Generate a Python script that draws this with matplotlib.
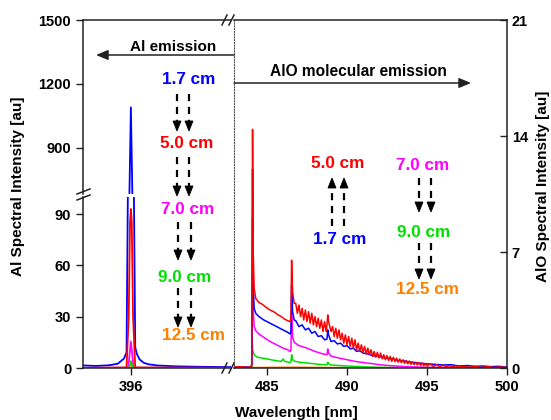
import numpy as np
import matplotlib
matplotlib.use("Agg")
from matplotlib import pyplot as plt
from matplotlib.lines import Line2D
from matplotlib.patches import FancyArrowPatch, Polygon

plt.rcParams['font.family'] = ['Liberation Sans', 'DejaVu Sans']
plt.rcParams['font.weight'] = 'bold'
plt.rcParams['axes.labelweight'] = 'bold'

# colours of the five distances
c_17 = '#0000FF'
c_50 = '#FF0000'
c_70 = '#FF00FF'
c_90 = '#00E000'
c_125 = '#FF8000'

# ---- Al line (left part, nm / au) ----
al_wl_17 = [395.45, 395.6, 395.75, 395.85, 395.92, 395.95, 395.965, 395.983, 396.0,
            396.017, 396.035, 396.05, 396.07, 396.1, 396.15, 396.2, 396.3, 396.5, 396.8, 397.15]
al_17 = [1.5, 1.2, 1.6, 2.5, 5.5, 9, 100, 680, 1090, 680, 100, 12, 8, 5, 3, 2.2, 1.5, 1.0, 0.7, 0.5]

al_wl_50 = [395.45, 395.95, 395.975, 395.99, 396.0, 396.01, 396.025, 396.05, 397.15]
al_50 = [0.1, 0.3, 30, 85, 93, 85, 30, 0.3, 0.1]

al_wl_70 = [395.45, 395.97, 395.985, 396.0, 396.015, 396.03, 397.15]
al_70 = [0.05, 0.2, 8, 15.5, 8, 0.2, 0.05]

al_wl_90 = [395.45, 395.98, 395.99, 396.0, 396.01, 396.02, 397.15]
al_90 = [0.02, 0.1, 2, 4, 2, 0.1, 0.02]

al_wl_125 = [395.45, 395.98, 396.0, 396.02, 397.15]
al_125 = [0.02, 0.05, 0.6, 0.05, 0.02]

# ---- AlO band (right part, nm / au) ----
alo_wl_50 = [482.94, 483.3, 483.7, 484.0, 484.05, 484.08, 484.1, 484.14, 484.2, 484.3,
             484.5, 484.7, 484.9, 485.1, 485.3, 485.5, 485.7, 485.9, 486.1, 486.3, 486.45,
             486.5, 486.54, 486.6, 486.7,
             486.8, 486.9, 487.0, 487.1, 487.2, 487.3, 487.4, 487.5, 487.6, 487.7, 487.8, 487.9,
             488.0, 488.1, 488.2, 488.3, 488.4, 488.5, 488.6, 488.7, 488.75, 488.8, 488.85,
             489.0, 489.1, 489.2, 489.3, 489.4, 489.5, 489.6, 489.7, 489.8, 489.9,
             490.0, 490.1, 490.2, 490.3, 490.4, 490.5, 490.6, 490.7, 490.8, 490.9,
             491.0, 491.1, 491.2, 491.3, 491.4, 491.5, 491.6, 491.7, 491.8, 491.9,
             492.0, 492.1, 492.2, 492.3, 492.4, 492.5, 492.6, 492.7, 492.8, 492.9,
             493.0, 493.1, 493.2, 493.3, 493.4, 493.5, 493.6, 493.7, 493.8, 493.9,
             494.0, 494.1, 494.2, 494.3, 494.4, 494.5, 494.6, 494.7, 494.8, 494.9,
             495.0, 495.2, 495.4, 495.6, 495.8, 496.0, 496.2, 496.4, 496.6, 496.8,
             497.0, 497.3, 497.6, 498.0, 498.4, 498.8, 499.2, 499.6, 500.0]
alo_50 = [0.05, 0.08, 0.04, 0.06, 0.2, 7, 14.4, 7, 4.8, 4.2,
          3.95, 3.85, 3.7, 3.55, 3.45, 3.35, 3.2, 3.1, 2.95, 2.85, 2.8,
          3.0, 6.5, 4.6, 3.9,
          3.9, 3.3, 3.8, 3.1, 3.6, 2.9, 3.5, 2.8, 3.4, 2.7, 3.3, 2.6,
          3.1, 2.5, 3.0, 2.4, 2.9, 2.2, 2.8, 2.2, 2.6, 3.2, 2.8,
          2.2, 2.5, 1.9, 2.4, 1.8, 2.3, 1.7, 2.1, 1.5, 2.0,
          1.4, 1.9, 1.3, 1.8, 1.2, 1.7, 1.1, 1.5, 1.0, 1.4,
          0.95, 1.3, 0.85, 1.2, 0.8, 1.1, 0.7, 1.0, 0.65, 0.95,
          0.6, 0.9, 0.55, 0.8, 0.5, 0.75, 0.45, 0.7, 0.4, 0.65,
          0.38, 0.6, 0.35, 0.55, 0.32, 0.5, 0.28, 0.45, 0.25, 0.42,
          0.22, 0.38, 0.2, 0.35, 0.18, 0.32, 0.16, 0.3, 0.14, 0.27,
          0.12, 0.24, 0.1, 0.2, 0.08, 0.18, 0.07, 0.15, 0.06, 0.13,
          0.05, 0.11, 0.04, 0.1, 0.03, 0.08, 0.03, 0.06, 0.03]

alo_wl_17 = [482.94, 483.5, 484.0, 484.05, 484.08, 484.1, 484.14, 484.2, 484.3, 484.5,
             484.8, 485.1, 485.4, 485.7, 486.0, 486.3, 486.45, 486.5, 486.54, 486.6, 486.7,
             486.8, 487.0, 487.2, 487.4, 487.6, 487.8, 488.0, 488.2, 488.4, 488.6, 488.75,
             488.8, 488.85, 489.0, 489.2, 489.4, 489.6, 489.8, 490.0, 490.2, 490.4, 490.6,
             490.8, 491.0, 491.3, 491.6, 492.0, 492.4, 492.8, 493.2, 493.6, 494.0, 494.5,
             495.0, 495.5, 496.0, 496.5, 497.0, 497.5, 498.0, 498.5, 499.0, 499.5, 500.0]
alo_17 = [0.05, 0.06, 0.05, 0.2, 6, 12, 5, 3.6, 3.3, 3.1,
          2.9, 2.75, 2.6, 2.45, 2.3, 2.15, 2.05, 2.2, 5.0, 3.4, 2.9,
          2.85, 2.5, 2.6, 2.3, 2.4, 2.1, 2.2, 1.9, 1.95, 1.7, 1.75,
          2.3, 2.0, 1.6, 1.65, 1.45, 1.5, 1.3, 1.35, 1.15, 1.2, 1.0,
          1.05, 0.9, 0.85, 0.75, 0.7, 0.6, 0.55, 0.45, 0.42, 0.35, 0.3,
          0.25, 0.22, 0.18, 0.2, 0.12, 0.15, 0.1, 0.12, 0.08, 0.1, 0.05]

alo_wl_70 = [482.94, 484.0, 484.05, 484.08, 484.1, 484.14, 484.2, 484.3, 484.5, 484.8,
             485.1, 485.4, 485.7, 486.0, 486.3, 486.45, 486.5, 486.54, 486.6, 486.7,
             487.0, 487.5, 488.0, 488.5, 488.75, 488.8, 488.85, 489.0, 489.5, 490.0,
             490.5, 491.0, 491.5, 492.0, 493.0, 494.0, 495.0, 500.0]
alo_70 = [0.03, 0.03, 0.2, 5, 9, 3.5, 2.5, 2.25, 2.05, 1.85,
          1.65, 1.5, 1.35, 1.2, 1.1, 1.0, 1.1, 3.3, 1.9, 1.55,
          1.35, 1.2, 1.0, 0.85, 0.8, 1.15, 0.9, 0.72, 0.6, 0.5,
          0.4, 0.33, 0.27, 0.2, 0.12, 0.07, 0.04, 0.02]

alo_wl_90 = [482.94, 484.0, 484.04, 484.07, 484.1, 484.2, 484.4, 485.0, 485.5, 485.9,
             486.0, 486.1, 486.45, 486.5, 486.54, 486.6, 486.7, 487.0, 487.5, 488.0,
             488.5, 488.75, 488.8, 488.85, 489.0, 489.5, 490.0, 491.0, 492.0, 494.0, 500.0]
alo_90 = [0.02, 0.02, 0.1, 2.1, 1.1, 0.8, 0.65, 0.55, 0.45, 0.4,
          0.55, 0.4, 0.33, 0.4, 0.8, 0.5, 0.42, 0.35, 0.3, 0.25,
          0.2, 0.2, 0.35, 0.25, 0.18, 0.15, 0.12, 0.07, 0.04, 0.02, 0.01]

alo_wl_125 = [482.94, 484.0, 484.07, 484.2, 486.54, 490.0, 500.0]
alo_125 = [0.02, 0.02, 0.08, 0.03, 0.05, 0.02, 0.02]

W, H = 551, 420
fig = plt.figure(figsize=(W / 100, H / 100), dpi=100)


def fx(px):
    return px / W


def fy(py):
    return 1 - py / H


# axes: left-top, left-bottom (broken y), right (AlO, right y axis)
ax_top = fig.add_axes([fx(83), fy(194), fx(231) - fx(83), fy(20) - fy(194)])
ax_bot = fig.add_axes([fx(83), fy(368), fx(231) - fx(83), fy(197) - fy(368)])
ax_r = fig.add_axes([fx(234), fy(368), fx(507) - fx(234), fy(20) - fy(368)])

for ax in (ax_top, ax_bot):
    ax.plot(al_wl_17, al_17, color=c_17, lw=1.3)
    ax.plot(al_wl_70, al_70, color=c_70, lw=1.3)
    ax.plot(al_wl_50, al_50, color=c_50, lw=1.3)
    ax.plot(al_wl_90, al_90, color=c_90, lw=1.3)
    ax.plot(al_wl_125, al_125, color=c_125, lw=1.3)
    ax.set_xlim(395.45, 397.15)
    ax.patch.set_alpha(0)

ax_top.set_ylim(684, 1500)
ax_top.set_yticks([900, 1200, 1500])
ax_top.spines['bottom'].set_visible(False)
ax_top.spines['right'].set_visible(False)
ax_top.set_xticks([])

ax_bot.set_ylim(0, 100)
ax_bot.set_yticks([0, 30, 60, 90])
ax_bot.set_xticks([396])
ax_bot.spines['top'].set_visible(False)
ax_bot.spines['right'].set_visible(False)

ax_r.plot(alo_wl_125, alo_125, color=c_125, lw=1.1)
ax_r.plot(alo_wl_90, alo_90, color=c_90, lw=1.1)
ax_r.plot(alo_wl_70, alo_70, color=c_70, lw=1.1)
ax_r.plot(alo_wl_17, alo_17, color=c_17, lw=1.1)
ax_r.plot(alo_wl_50, alo_50, color=c_50, lw=1.1)
ax_r.set_xlim(482.94, 500)
ax_r.set_ylim(0, 21)
ax_r.set_xticks([485, 490, 495, 500])
ax_r.set_yticks([0, 7, 14, 21])
ax_r.yaxis.tick_right()
ax_r.spines['left'].set_linestyle((0, (1, 1.5)))
ax_r.spines['left'].set_linewidth(0.8)
ax_r.spines['left'].set_color('#555555')
ax_r.patch.set_alpha(0)

for ax in (ax_top, ax_bot, ax_r):
    for name, s in ax.spines.items():
        if not (ax is ax_r and name == 'left'):
            s.set_linewidth(1.1)
            s.set_color('#222222')
    ax.tick_params(labelsize=10.5, width=1, colors='#222222', labelcolor='black')
ax_top.tick_params(axis='y', direction='out', length=5)
ax_bot.tick_params(axis='y', direction='out', length=5)
ax_bot.tick_params(axis='x', direction='out', length=5)
ax_r.tick_params(axis='x', direction='out', length=5)
ax_r.tick_params(axis='y', direction='in', length=5)
for ax in (ax_top, ax_bot, ax_r):
    for lab in ax.get_xticklabels() + ax.get_yticklabels():
        lab.set_fontweight('bold')


# break marks
def slash(x0, y0, x1, y1):
    fig.add_artist(Line2D([fx(x0), fx(x1)], [fy(y0), fy(y1)], color='#222222', lw=1.1))


slash(77, 194, 90, 189)
slash(77, 200, 90, 195)
slash(222, 25, 227, 15)
slash(229, 25, 234, 15)
slash(222, 373, 227, 363)
slash(229, 373, 234, 363)

# axis titles
fig.text(fx(18), fy(186), 'Al Spectral Intensity [au]', rotation=90, ha='center', va='center',
         fontsize=11, fontweight='bold')
fig.text(fx(543), fy(186), 'AlO Spectral Intensity [au]', rotation=90, ha='center', va='center',
         fontsize=11, fontweight='bold')
fig.text(fx(296), fy(413), 'Wavelength [nm]', ha='center', va='center', fontsize=11,
         fontweight='bold')

# region arrows
fig.text(fx(173), fy(47), 'Al emission', ha='center', va='center', fontsize=11, fontweight='bold')
fig.text(fx(358), fy(72), 'AlO molecular emission', ha='center', va='center', fontsize=11.2,
         fontweight='bold')
solid = dict(arrowstyle='-|>,head_length=0.6,head_width=0.25', color='#222222', lw=1.1,
             mutation_scale=12, shrinkA=0, shrinkB=0)
fig.add_artist(FancyArrowPatch((fx(234), fy(55)), (fx(96), fy(55)),
                               transform=fig.transFigure, **solid))
fig.add_artist(FancyArrowPatch((fx(234), fy(83)), (fx(471), fy(83)),
                               transform=fig.transFigure, **solid))

# distance labels
labels = [
    ('1.7 cm', c_17, 189, 79), ('5.0 cm', c_50, 187, 143), ('7.0 cm', c_70, 188, 210),
    ('9.0 cm', c_90, 185, 277), ('12.5 cm', c_125, 193, 335),
    ('5.0 cm', c_50, 338, 163), ('1.7 cm', c_17, 340, 240),
    ('7.0 cm', c_70, 423, 166), ('9.0 cm', c_90, 424, 232), ('12.5 cm', c_125, 427, 289),
]
for txt, col, x, y in labels:
    fig.text(fx(x), fy(y), txt, color=col, ha='center', va='center', fontsize=12.3,
             fontweight='bold')


def pair(xa, xb, y0, y1, head=10, half=4):
    # dashed shaft + filled triangle head, in figure pixels
    sgn = 1 if y1 > y0 else -1
    for x in (xa, xb):
        ys = y1 - sgn * head
        fig.add_artist(Line2D([fx(x), fx(x)], [fy(y0), fy(ys)], color='black', lw=1.6,
                              linestyle=(0, (3.2, 2.6))))
        tri = Polygon([(fx(x - half), fy(ys)), (fx(x + half), fy(ys)), (fx(x), fy(y1))],
                      closed=True, transform=fig.transFigure, facecolor='black',
                      edgecolor='black', lw=0.6)
        fig.add_artist(tri)


pair(177, 189, 94, 131)
pair(177, 189, 157, 196)
pair(178, 191, 222, 260)
pair(178, 191, 288, 327)
pair(332, 344, 226, 178)
pair(419, 431, 178, 212)
pair(419, 431, 243, 279)

fig.savefig('out.png', dpi=100)
